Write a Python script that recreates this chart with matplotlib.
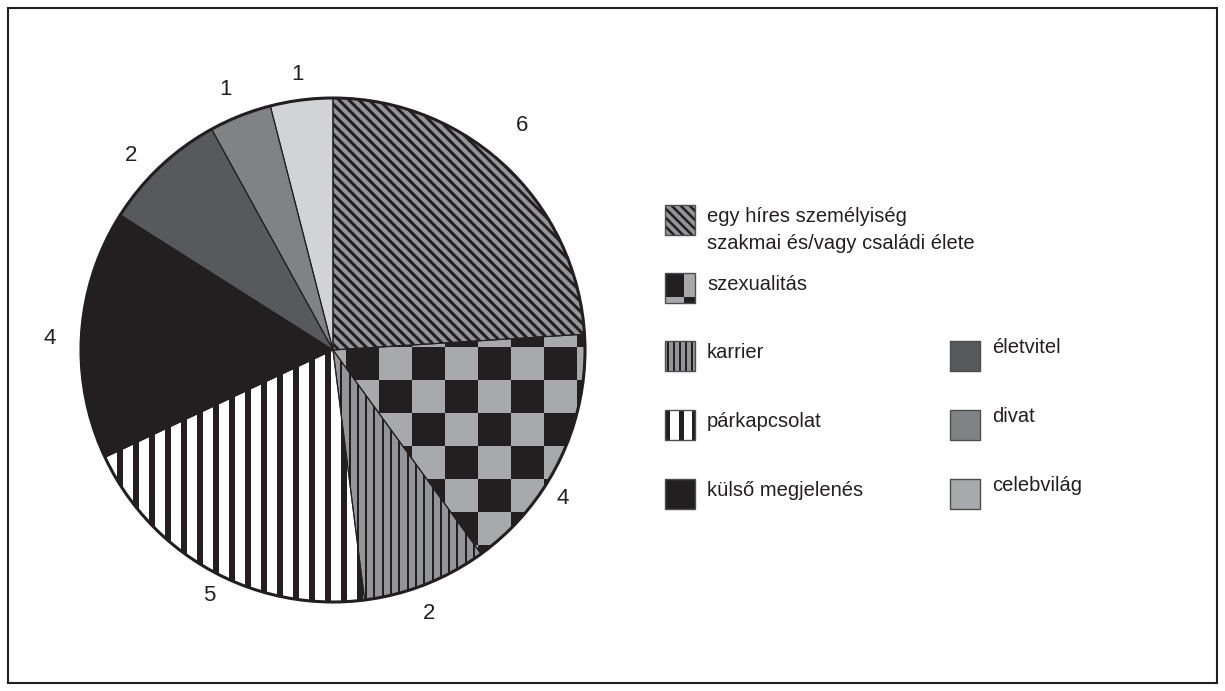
import numpy as np
import matplotlib
matplotlib.use("Agg")
import matplotlib.pyplot as plt
from matplotlib.patches import Rectangle, Wedge, Circle
from matplotlib.collections import LineCollection, PatchCollection

plt.rcParams['font.family'] = ['Liberation Sans', 'DejaVu Sans']

# --- data -----------------------------------------------------------------
categories = [
    'egy híres személyiség\nszakmai és/vagy családi élete',
    'szexualitás',
    'karrier',
    'párkapcsolat',
    'külső megjelenés',
    'életvitel',
    'divat',
    'celebvilág',
]
values = [6, 4, 2, 5, 4, 2, 1, 1]
value_labels = [str(v) for v in values]

# --- style ----------------------------------------------------------------
W, H = 1225, 691
BLACK = '#231f20'
fills = ['#939598', '#a7a9ac', '#939598', '#ffffff',
         BLACK, '#58595b', '#808285', '#d1d3d4']
swatch_fills = fills[:7] + ['#a7a9ac']
patterns = ['diag', 'checker', 'thin', 'thick', None, None, None, None]

# small pixel nudges of the value labels (image x right, y down)
label_nudge = [(-2, -21), (-23, 29), (-7, 3), (11, 0),
               (-4, 6), (-10, 9), (-5, 0), (0, 2)]

# swatch top-left corner (image pixels, y down)
legend_slots = [(665, 205), (665, 273), (665, 341), (665, 410),
                (665, 479), (950, 341), (950, 410), (950, 479)]
SW = 30


def to_pt(px):
    return px * 72.0 / 100.0


def clipped(ax, coll, clip):
    ax.add_collection(coll)
    # set after adding, otherwise add_collection falls back to the axes clip
    coll.set_clip_path(clip)


def diag_lines(ax, clip, x0, x1, y0, y1, step, lw_px, phase=0.0):
    # "\" direction lines: y = -x + c
    cs = np.arange(x0 + y0 - step + phase, x1 + y1 + step, step)
    segs = [[(x0 - 5, c - x0 + 5), (x1 + 5, c - x1 - 5)] for c in cs]
    clipped(ax, LineCollection(segs, colors=BLACK,
                               linewidths=to_pt(lw_px), zorder=2), clip)


def vstripes(ax, clip, x0, x1, y0, y1, period, width, phase=0.0):
    xs = np.arange(x0 - period + phase, x1 + period, period)
    rects = [Rectangle((x, y0), width, y1 - y0) for x in xs]
    clipped(ax, PatchCollection(rects, facecolor=BLACK, edgecolor='none',
                                zorder=2), clip)


def checker(ax, clip, x0, x1, y0, y1, ox, oy, size):
    rects = []
    for i in range(int(np.floor((x0 - ox) / size)) - 1, int(np.ceil((x1 - ox) / size)) + 1):
        for j in range(int(np.floor((oy - y1) / size)) - 1, int(np.ceil((oy - y0) / size)) + 1):
            if (i + j) % 2 == 0:
                rects.append(Rectangle((ox + i * size, oy - (j + 1) * size), size, size))
    clipped(ax, PatchCollection(rects, facecolor=BLACK, edgecolor='none',
                                zorder=2), clip)


fig = plt.figure(figsize=(W / 100, H / 100), dpi=100)
ax = fig.add_axes([0, 0, 1, 1])

# --- pie ------------------------------------------------------------------
cx, cy, R = 333, H - 350, 252
wedges, texts = ax.pie(values, labels=value_labels, colors=fills,
                       startangle=90, counterclock=False,
                       center=(cx, cy), radius=R, labeldistance=1.11,
                       wedgeprops=dict(linewidth=0),
                       textprops=dict(fontsize=16, color=BLACK,
                                      ha='center', va='center'))
ax.set_xlim(0, W)
ax.set_ylim(0, H)
ax.set_aspect('equal')
ax.axis('off')

for t, (dx, dy) in zip(texts, label_nudge):
    px, py = t.get_position()
    t.set_position((px + dx, py - dy))

bx0, bx1, by0, by1 = cx - R, cx + R, cy - R, cy + R
for w, kind in zip(wedges, patterns):
    if kind == 'diag':
        diag_lines(ax, w, bx0, bx1, by0, by1, 10, 3)
    elif kind == 'checker':
        checker(ax, w, bx0, bx1, by0, by1, 346, H - 347, 33)
    elif kind == 'thin':
        vstripes(ax, w, bx0, bx1, by0, by1, 8.3, 2, phase=2)
    elif kind == 'thick':
        vstripes(ax, w, bx0, bx1, by0, by1, 16, 6, phase=4)
    ax.add_patch(Wedge((cx, cy), R, w.theta1, w.theta2, fill=False,
                       ec=BLACK, lw=0.8, zorder=4))
ax.add_patch(Circle((cx, cy), R, fill=False, ec=BLACK, lw=2.2, zorder=5))

# --- legend ---------------------------------------------------------------
for k, (label, (sx, sy)) in enumerate(zip(categories, legend_slots)):
    x0, y0 = sx, H - sy - SW
    x1, y1 = x0 + SW, y0 + SW
    sw = Rectangle((x0, y0), SW, SW, facecolor=swatch_fills[k],
                   edgecolor='none', zorder=1)
    ax.add_patch(sw)
    kind = patterns[k]
    if kind == 'diag':
        diag_lines(ax, sw, x0, x1, y0, y1, 9, 2.5)
    elif kind == 'checker':
        checker(ax, sw, x0, x1, y0, y1, x0 + 19, y1 - 24, 24)
    elif kind == 'thin':
        vstripes(ax, sw, x0, x1, y0, y1, 6.0, 2, phase=1.5)
    elif kind == 'thick':
        vstripes(ax, sw, x0, x1, y0, y1, 13.5, 5, phase=13.5)
    ax.add_patch(Rectangle((x0, y0), SW, SW, fill=False,
                           ec='#4d4d4f', lw=1.0, zorder=3))
    tx = sx + 42
    base = sy + 17 if sx < 900 else sy + 12
    for n, line in enumerate(label.split('\n')):
        ax.text(tx, H - base - 27 * n, line, fontsize=14.5, color=BLACK,
                ha='left', va='baseline')

# --- frame ----------------------------------------------------------------
ax.add_patch(Rectangle((8, 8), W - 16, H - 16, fill=False, ec=BLACK,
                       lw=1.5, zorder=6, clip_on=False))

fig.savefig('out.png', dpi=100)
